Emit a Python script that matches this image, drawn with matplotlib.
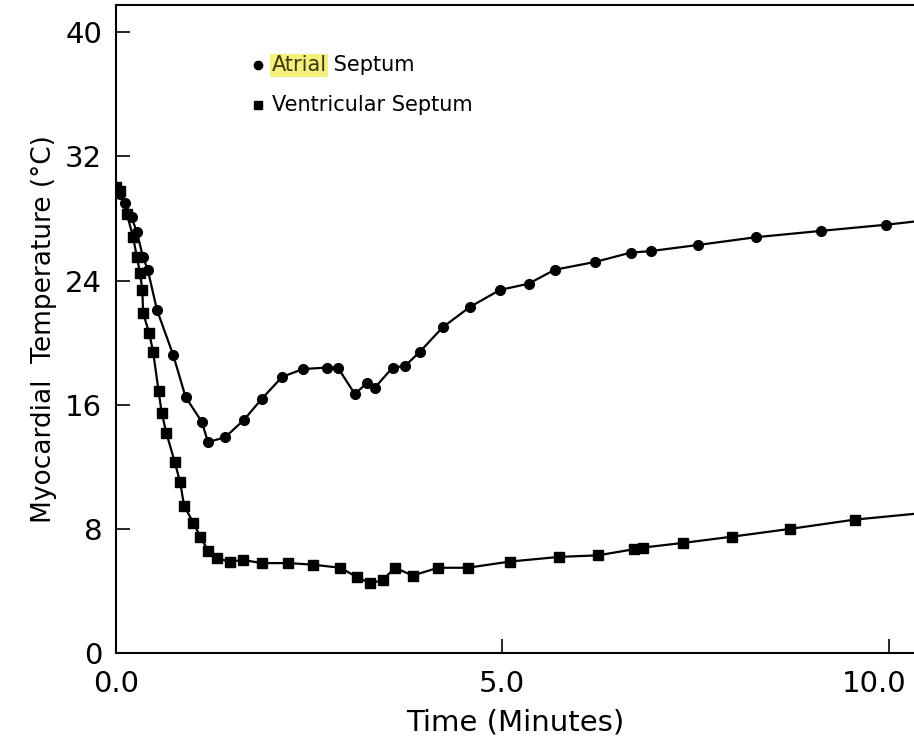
import matplotlib
matplotlib.use('Agg')
import matplotlib.pyplot as plt
import matplotlib.transforms as mtransforms

# atrial septum readings (minutes, deg C)
atrial_t = [0.0, 0.05, 0.12, 0.2, 0.27, 0.35, 0.41, 0.53, 0.74, 0.9, 1.11, 1.19, 1.41,
            1.65, 1.89, 2.15, 2.42, 2.73, 2.87, 3.09, 3.25, 3.35, 3.58, 3.74, 3.93,
            4.23, 4.58, 4.97, 5.34, 5.68, 6.20, 6.66, 6.92, 7.54, 8.29, 9.12, 9.97, 10.6]
atrial_temp = [30.0, 29.6, 29.0, 28.1, 27.1, 25.5, 24.7, 22.1, 19.2, 16.5, 14.9, 13.6, 13.9,
               15.0, 16.4, 17.8, 18.3, 18.4, 18.4, 16.7, 17.4, 17.1, 18.4, 18.5, 19.4,
               21.0, 22.3, 23.4, 23.8, 24.7, 25.2, 25.8, 25.9, 26.3, 26.8, 27.2, 27.6, 27.95]

# ventricular septum readings
vent_t = [0.0, 0.05, 0.14, 0.22, 0.27, 0.31, 0.34, 0.35, 0.43, 0.48, 0.55, 0.59, 0.65,
          0.76, 0.83, 0.88, 1.0, 1.09, 1.19, 1.31, 1.47, 1.64, 1.89, 2.23, 2.55, 2.90,
          3.12, 3.29, 3.45, 3.61, 3.84, 4.17, 4.55, 5.10, 5.74, 6.24, 6.71, 6.82, 7.34,
          7.97, 8.72, 9.56, 10.6]
vent_temp = [30.0, 29.8, 28.3, 26.8, 25.5, 24.5, 23.4, 21.9, 20.6, 19.4, 16.9, 15.5, 14.2,
             12.3, 11.0, 9.5, 8.4, 7.5, 6.6, 6.1, 5.9, 6.0, 5.8, 5.8, 5.7, 5.5,
             4.9, 4.5, 4.7, 5.5, 5.0, 5.5, 5.5, 5.9, 6.2, 6.3, 6.7, 6.8, 7.1,
             7.5, 8.0, 8.6, 9.1]

xticks = [0, 5, 10]
xtick_labels = ['0.0', '5.0', '10.0']
yticks = [0, 8, 16, 24, 32, 40]

fig = plt.figure(figsize=(9.14, 7.49), dpi=100)
ax = fig.add_axes([0.127, 0.128, 0.873, 0.865])

ax.plot(atrial_t, atrial_temp, '-o', color='black', lw=1.6, markersize=7)
ax.plot(vent_t, vent_temp, '-s', color='black', lw=1.6, markersize=6.5)

ax.set_xlim(0, 10.33)
ax.set_ylim(0, 41.74)
ax.set_xticks(xticks)
ax.set_xticklabels(xtick_labels)
ax.set_yticks(yticks)
ax.tick_params(direction='in', length=10, width=1.2, labelsize=21, pad=10)
ax.tick_params(axis='x', pad=12)
ax.spines['right'].set_visible(False)
for s in ['left', 'bottom', 'top']:
    ax.spines[s].set_linewidth(1.5)

# last x label sits against the right edge like in the scan
last = ax.get_xticklabels()[-1]
last.set_horizontalalignment('right')
last.set_transform(last.get_transform() + mtransforms.ScaledTranslation(0.18, 0, fig.dpi_scale_trans))

ax.set_xlabel('Time (Minutes)', fontsize=21, labelpad=8)
ax.set_ylabel('Myocardial  Temperature (°C)', fontsize=19, labelpad=6)

# legend drawn by hand (scan has "Atrial" highlighted)
ax.plot([0.178], [0.907], 'o', color='black', markersize=6, transform=ax.transAxes, clip_on=False)
ax.plot([0.178], [0.846], 's', color='black', markersize=6, transform=ax.transAxes, clip_on=False)
t1 = ax.text(0.195, 0.907, 'Atrial', transform=ax.transAxes, fontsize=15, va='center',
             color='#3a3a10', bbox=dict(facecolor='#f4f07a', edgecolor='none', pad=1))
ax.annotate(' Septum', xy=(1, 0.5), xycoords=t1, fontsize=15, va='center', ha='left')
ax.text(0.195, 0.846, 'Ventricular Septum', transform=ax.transAxes, fontsize=15, va='center')

fig.savefig('out.png', dpi=100)
